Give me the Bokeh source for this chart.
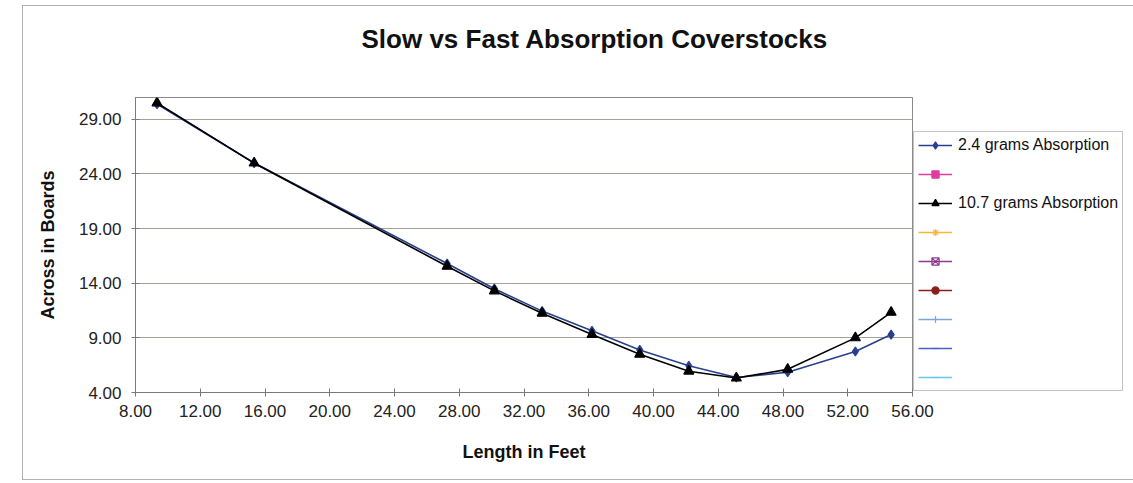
from bokeh.plotting import figure
from bokeh.models import (FixedTicker, NumeralTickFormatter, Range1d, Legend,
                          LegendItem, Title, InlineStyleSheet)
from bokeh.embed import file_html
from bokeh.resources import INLINE

# ---- data ----
length_ft = [9.33, 15.33, 27.25, 30.17, 33.12, 36.20, 39.15, 42.18, 45.12, 48.29, 52.47, 54.68]
slow_2_4g = [30.40, 25.00, 15.80, 13.50, 11.45, 9.65, 7.90, 6.45, 5.38, 5.85, 7.75, 9.30]
fast_10_7g = [30.50, 25.00, 15.55, 13.30, 11.25, 9.30, 7.50, 5.95, 5.32, 6.12, 9.00, 11.34]

x_ticks = [8, 12, 16, 20, 24, 28, 32, 36, 40, 44, 48, 52, 56]
y_ticks = [4, 9, 14, 19, 24, 29]

legend_labels = ["2.4 grams Absorption", " ", "10.7 grams Absorption", " ", " ", " ", " ", " ", " "]
legend_colors = ["#27408f", "#e03ca0", "#000000", "#f6b73a", "#8e3a8e", "#8b1e1e", "#7aa6d6", "#4a5fc9", "#6cc4ee"]
legend_markers = ["diamond", "square", "triangle", "asterisk", "square_x", "circle", "cross", "dash", "dash"]
# the unused (blank) series of the original workbook hold no values
blank_x = [float("nan")]
blank_y = [float("nan")]

title_text = "Slow vs Fast Absorption Coverstocks"
x_title = "Length in Feet"
y_title = "Across in Boards"

FONT = "Liberation Sans"

chart_border = InlineStyleSheet(css="""
:host { position: relative; }
:host::after {
  content: ""; position: absolute; left: 22px; top: 5px;
  width: 1200px; height: 475px; border: 1px solid #b0b0b0;
  pointer-events: none; box-sizing: border-box;
}
""")

p = figure(frame_width=777, frame_height=295,
           x_range=Range1d(8, 56), y_range=Range1d(4, 31),
           output_backend="svg", toolbar_location=None, title=None,
           min_border_left=135, min_border_top=97,
           min_border_right=220, min_border_bottom=90,
           background_fill_color="white", border_fill_color="white",
           stylesheets=[chart_border])

# spacer panel next to the frame, then the real title above it
p.add_layout(Title(text=" ", standoff=20, text_font=FONT, text_font_size="10px"), "above")
p.add_layout(Title(text=title_text, align="left", offset=226, vertical_align="top",
                   standoff=18, text_font=FONT, text_font_size="26px",
                   text_font_style="bold", text_color="#111111"), "above")

p.outline_line_color = "#8a8a8a"
p.outline_line_width = 1

# axes
for ax, ticks in ((p.xaxis, x_ticks), (p.yaxis, y_ticks)):
    ax.ticker = FixedTicker(ticks=ticks)
    ax.formatter = NumeralTickFormatter(format="0.00")
    ax.axis_line_color = "#7a7a7a"
    ax.major_tick_line_color = "#7a7a7a"
    ax.major_tick_in = 4
    ax.major_tick_out = 4
    ax.minor_tick_line_color = None
    ax.major_label_text_font = FONT
    ax.major_label_text_font_size = "17px"
    ax.major_label_text_color = "#222222"
    ax.axis_label_text_font = FONT
    ax.axis_label_text_font_size = "18px"
    ax.axis_label_text_font_style = "bold"
    ax.axis_label_text_color = "#111111"

p.xaxis.axis_label = x_title
p.yaxis.axis_label = y_title
p.xaxis.major_label_standoff = 8
p.xaxis.axis_label_standoff = 22
p.yaxis.major_label_standoff = 10
p.yaxis.axis_label_standoff = 18

p.xgrid.visible = False
p.ygrid.ticker = FixedTicker(ticks=y_ticks)
p.ygrid.grid_line_color = "#a59f99"
p.ygrid.grid_line_width = 1

# series
renderers = []
for i in range(9):
    if i == 0:
        xs, ys = length_ft, slow_2_4g
    elif i == 2:
        xs, ys = length_ft, fast_10_7g
    else:
        xs, ys = blank_x, blank_y
    c = legend_colors[i]
    ln = p.line(xs, ys, line_color=c, line_width=1.6)
    m = legend_markers[i]
    sz = 10 if m == "triangle" else (9 if m == "diamond" else 8)
    fill = None if m in ("square_x", "asterisk") else c
    mk = p.scatter(xs, ys, marker=m, size=sz,
                   line_color=c, fill_color=fill, line_width=1.2)
    renderers.append([ln, mk])

items = [LegendItem(label=legend_labels[i], renderers=renderers[i]) for i in range(9)]
legend = Legend(items=items, location=(1, 1))
legend.border_line_color = "#8a8a8a"
legend.background_fill_color = "white"
legend.background_fill_alpha = 1
legend.label_text_font = FONT
legend.label_text_font_size = "16px"
legend.label_text_color = "#111111"
legend.padding = 4
legend.margin = 0
legend.spacing = 11
legend.label_height = 18
legend.glyph_height = 18
legend.glyph_width = 34
legend.label_standoff = 6
p.add_layout(legend, "right")

open("out.html", "w").write(file_html(p, INLINE))
